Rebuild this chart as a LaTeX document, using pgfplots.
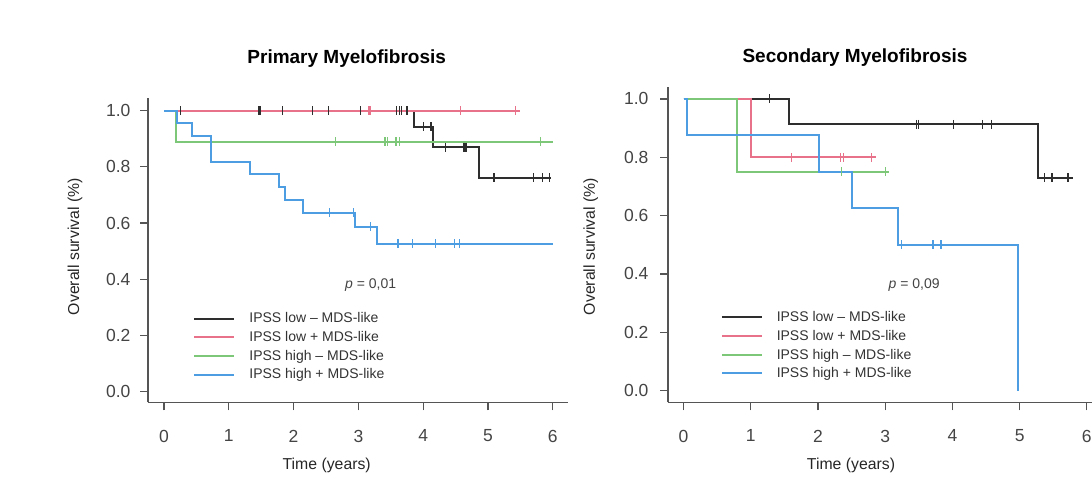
\documentclass[border=0pt]{standalone}
\usepackage{fontspec}
\setmainfont{Liberation Sans}
\usepackage{pgfplots}
\pgfplotsset{compat=1.18}

\definecolor{kmblack}{HTML}{2E2E2E}
\definecolor{kmred}{HTML}{E8728A}
\definecolor{kmgreen}{HTML}{7DC878}
\definecolor{kmblue}{HTML}{4C9DE2}
\definecolor{axisgray}{HTML}{555555}
\definecolor{labelgray}{HTML}{444444}

\pgfplotsset{
  legend image code/.code={\draw[#1, line width=2pt] (0pt,0pt) -- (40pt,0pt);},
  kmaxis/.style={
    scale only axis,
    anchor=south west,
    axis lines*=left,
    axis line style={axisgray, line width=1.2pt},
    tick align=outside,
    major tick length=8pt,
    tick style={axisgray, line width=1.2pt},
    xtick={0,1,2,3,4,5,6},
    ytick={0,0.2,0.4,0.6,0.8,1},
    /pgf/number format/assume math mode=true,
    yticklabel style={/pgf/number format/fixed, /pgf/number format/fixed zerofill,
      /pgf/number format/precision=1, xshift=-6pt},
    xticklabel style={yshift=-16pt},
    tick label style={font=\fontsize{17.5}{20}\selectfont, text=labelgray},
    legend style={draw=none, fill=none, font=\fontsize{14}{16}\selectfont,
      anchor=north west, row sep=5pt, inner sep=0pt,
      nodes={inner sep=1pt, text=black!80},
      /tikz/every odd column/.append style={column sep=13pt}},
    legend cell align=left,
    clip=false,
  },
  kmline/.style={const plot, line width=2pt},
  cens/.style={only marks, mark=|, mark size=4.5pt, forget plot,
    mark options={line width=1.2pt}},
}

\begin{document}
\begin{tikzpicture}
\useasboundingbox (0,0) rectangle (1092pt,479pt);

% ---- Primary Myelofibrosis ----
\begin{axis}[kmaxis, at={(148pt,76.7pt)}, width=420pt, height=304.3pt,
  xmin=-0.247, xmax=6.235, ymin=-0.0377, ymax=1.045,
  legend style={at={(axis cs:0.45,0.285)}}]
  \addplot[kmline, kmblack] coordinates {
    (0,1) (3.86,0.943) (4.15,0.870) (4.86,0.762) (5.98,0.762)};
  \addplot[kmline, kmred] coordinates {
    (0,1) (5.49,1)};
  \addplot[kmline, kmgreen] coordinates {
    (0,1) (0.185,0.889) (6.0,0.889)};
  \addplot[kmline, kmblue] coordinates {
    (0,1) (0.195,0.955) (0.43,0.909) (0.72,0.818) (1.33,0.773) (1.78,0.727)
    (1.86,0.682) (2.14,0.636) (2.95,0.587) (3.29,0.526) (6.0,0.526)};
  % censoring marks
  \addplot[cens, kmblack] coordinates {
    (0.25,1) (1.46,1) (1.48,1) (1.83,1) (2.29,1) (2.54,1) (3.03,1)
    (3.59,1) (3.63,1) (3.67,1) (3.75,1)
    (4.0,0.943) (4.12,0.943)
    (4.34,0.870) (4.62,0.870) (4.64,0.870) (4.66,0.870)
    (5.08,0.762) (5.10,0.762) (5.70,0.762) (5.84,0.762) (5.95,0.762)};
  \addplot[cens, kmred] coordinates {
    (3.15,1) (3.18,1) (4.57,1) (5.42,1)};
  \addplot[cens, kmgreen] coordinates {
    (2.65,0.889) (3.41,0.889) (3.45,0.889) (3.58,0.889) (3.63,0.889) (5.81,0.889)};
  \addplot[cens, kmblue] coordinates {
    (2.55,0.636) (2.93,0.636) (3.19,0.587)
    (3.61,0.526) (3.83,0.526) (4.19,0.526) (4.48,0.526) (4.56,0.526)};
  \legend{IPSS low -- MDS-like, IPSS low + MDS-like, IPSS high -- MDS-like, IPSS high + MDS-like}
  \node[font=\fontsize{14}{16}\selectfont, text=labelgray] at (axis cs:3.19,0.38) {\textit{p} = 0,01};
\end{axis}

% ---- Secondary Myelofibrosis ----
\begin{axis}[kmaxis, at={(668pt,76.7pt)}, width=439pt, height=315.6pt,
  xmin=-0.232, xmax=6.3, ymin=-0.04, ymax=1.042,
  yticklabel style={xshift=-2pt},
  legend style={at={(axis cs:0.55,0.275)}}]
  \addplot[kmline, kmblack] coordinates {
    (0,1) (1.57,0.913) (5.27,0.730) (5.80,0.730)};
  \addplot[kmline, kmred] coordinates {
    (0,1) (1.01,0.8) (2.87,0.8)};
  \addplot[kmline, kmgreen] coordinates {
    (0,1) (0.80,0.75) (3.05,0.75)};
  \addplot[kmline, kmblue] coordinates {
    (0,1) (0.05,0.875) (2.02,0.75) (2.50,0.625) (3.19,0.5) (4.98,0)};
  % censoring marks
  \addplot[cens, kmblack] coordinates {
    (1.28,1) (3.46,0.913) (3.50,0.913) (4.01,0.913) (4.45,0.913) (4.58,0.913)
    (5.37,0.730) (5.48,0.730) (5.72,0.730)};
  \addplot[cens, kmred] coordinates {
    (1.60,0.8) (2.33,0.8) (2.38,0.8) (2.79,0.8)};
  \addplot[cens, kmgreen] coordinates {
    (2.35,0.75) (3.0,0.75)};
  \addplot[cens, kmblue] coordinates {
    (3.24,0.5) (3.71,0.5) (3.83,0.5)};
  \legend{IPSS low -- MDS-like, IPSS low + MDS-like, IPSS high -- MDS-like, IPSS high + MDS-like}
  \node[font=\fontsize{14}{16}\selectfont, text=labelgray] at (axis cs:3.43,0.362) {\textit{p} = 0,09};
\end{axis}

% titles and axis labels
\node[font=\fontsize{19}{22}\selectfont\bfseries] at (346.7pt,420pt) {Primary Myelofibrosis};
\node[font=\fontsize{19}{22}\selectfont\bfseries] at (855pt,421pt) {Secondary Myelofibrosis};
\node[font=\fontsize{15.8}{18}\selectfont, text=black!85] at (326.7pt,14pt) {Time (years)};
\node[font=\fontsize{15.8}{18}\selectfont, text=black!85] at (851pt,14pt) {Time (years)};
\node[font=\fontsize{15.8}{18}\selectfont, text=black!85, rotate=90] at (75pt,232.3pt) {Overall survival (\%)};
\node[font=\fontsize{15.8}{18}\selectfont, text=black!85, rotate=90] at (590.7pt,232.3pt) {Overall survival (\%)};
\end{tikzpicture}
\end{document}
